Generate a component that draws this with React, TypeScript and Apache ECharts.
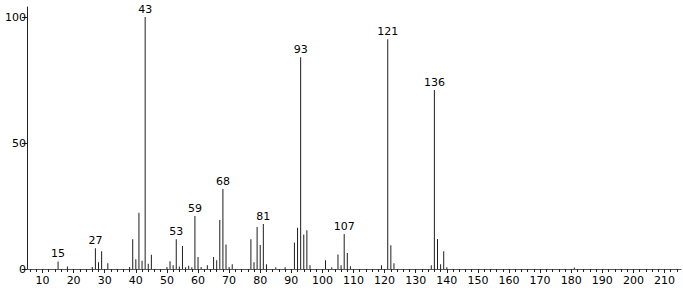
import React, { useEffect, useRef } from "react";
import * as echarts from "echarts";

const massToCharge = [15, 18, 26, 27, 28, 29, 31, 38, 39, 40, 41, 42, 43, 44, 45, 50, 51, 52, 53, 54, 55, 56, 57, 58, 59, 60, 61, 63, 65, 66, 67, 68, 69, 70, 71, 77, 78, 79, 80, 81, 82, 85, 88, 91, 92, 93, 94, 95, 96, 101, 103, 105, 106, 107, 108, 109, 119, 121, 122, 123, 135, 136, 137, 138, 139, 140, 181];
const intensity = [3.0, 1.0, 0.8, 8.2, 2.7, 7.0, 2.3, 0.8, 11.8, 3.9, 22.3, 3.3, 100, 2.1, 5.7, 0.8, 3.1, 1.5, 11.8, 1.0, 9.1, 0.7, 1.3, 0.7, 21.0, 4.8, 0.8, 1.5, 4.8, 3.5, 19.5, 31.8, 9.7, 0.8, 1.9, 11.8, 2.7, 16.7, 9.5, 17.9, 1.9, 0.7, 0.7, 10.5, 16.4, 84.1, 13.7, 15.4, 1.5, 3.5, 0.7, 5.8, 1.5, 13.9, 6.4, 1.1, 1.5, 91.2, 9.4, 2.3, 1.5, 71.1, 11.9, 1.9, 7.0, 0.7, 0.6];
const labeledPeaks = [15, 27, 43, 53, 59, 68, 81, 93, 107, 121, 136];
const xMajorTicks = [10, 20, 30, 40, 50, 60, 70, 80, 90, 100, 110, 120, 130, 140, 150, 160, 170, 180, 190, 200, 210];
const xMinorTicks = [6, 8, 12, 14, 16, 18, 22, 24, 26, 28, 32, 34, 36, 38, 42, 44, 46, 48, 52, 54, 56, 58, 62, 64, 66, 68, 72, 74, 76, 78, 82, 84, 86, 88, 92, 94, 96, 98, 102, 104, 106, 108, 112, 114, 116, 118, 122, 124, 126, 128, 132, 134, 136, 138, 142, 144, 146, 148, 152, 154, 156, 158, 162, 164, 166, 168, 172, 174, 176, 178, 182, 184, 186, 188, 192, 194, 196, 198, 202, 204, 206, 208, 212, 214];

const FONT = "DejaVu Sans";

export default function App() {
  const ref = useRef<HTMLDivElement>(null);
  useEffect(() => {
    if (!ref.current) return;
    const chart = echarts.init(ref.current, null, { renderer: "svg" });
    const data = massToCharge.map((m, i) => ({
      value: [m, intensity[i]],
      label: {
        show: labeledPeaks.includes(m),
        position: "top",
        distance: 2,
        formatter: String(m),
        color: "#000",
        fontFamily: FONT,
        fontSize: 11,
      },
    }));
    chart.setOption({
      animation: false,
      backgroundColor: "#fff",
      grid: { left: 22, right: 2, top: 7, bottom: 22, containLabel: false },
      xAxis: [
        {
          type: "value",
          min: 3.4,
          max: 215.3,
          position: "bottom",
          axisLine: { show: true, onZero: false, lineStyle: { color: "#555", width: 1 } },
          axisTick: { show: true, customValues: xMinorTicks, length: 3, lineStyle: { color: "#222" } },
          axisLabel: { show: true, customValues: xMajorTicks, color: "#000", fontFamily: FONT, fontSize: 11, margin: 6 },
          splitLine: { show: false },
        },
        {
          type: "value",
          min: 3.4,
          max: 215.3,
          position: "bottom",
          axisLine: { show: false, onZero: false },
          axisTick: { show: true, customValues: xMajorTicks, length: 4, lineStyle: { color: "#222" } },
          axisLabel: { show: false },
          splitLine: { show: false },
        },
      ],
      yAxis: {
        type: "value",
        min: 0,
        max: 104,
        interval: 50,
        offset: -5,
        axisLine: { show: true, onZero: false, lineStyle: { color: "#222", width: 1 } },
        axisTick: { show: true, length: 5, lineStyle: { color: "#222" } },
        axisLabel: { color: "#000", fontFamily: FONT, fontSize: 11, margin: 1 },
        splitLine: { show: false },
      },
      series: [
        {
          type: "bar",
          xAxisIndex: 0,
          barWidth: 1,
          itemStyle: { color: "#1e1e1e" },
          data,
        },
      ],
    });
    return () => chart.dispose();
  }, []);
  return (
    <div
      ref={ref}
      style={{ position: "fixed", left: 0, top: 0, width: 683, height: 291, background: "#fff" }}
    />
  );
}
